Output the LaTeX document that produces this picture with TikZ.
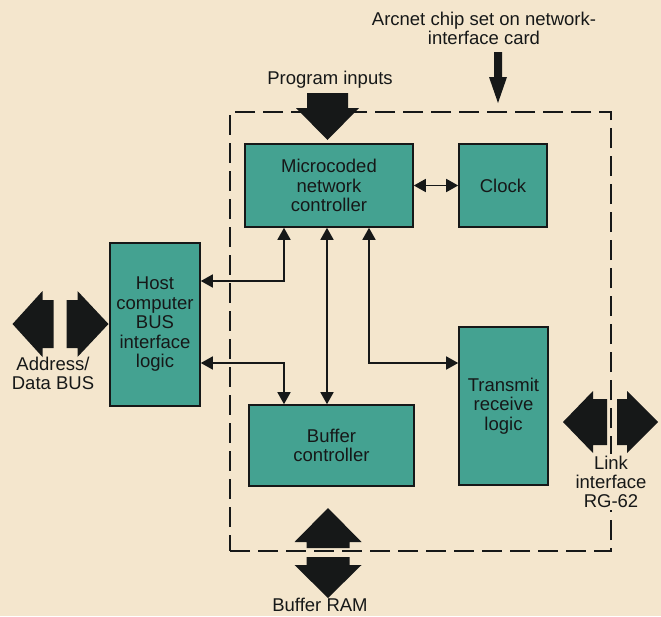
\documentclass[tikz,border=0pt]{standalone}
\usepackage{fontspec}
\setmainfont{Liberation Sans}
\usetikzlibrary{arrows.meta}
\definecolor{paper}{RGB}{244,230,205}
\definecolor{tealbox}{RGB}{68,162,145}
\definecolor{ink}{RGB}{22,24,24}
% one half of a fat block arrow: origin, direction, gap, shaft length,
% head length, head half-width, shaft half-width
\newcommand\fathalf[7]{%
  \fill[ink,shift={(#1)},rotate=#2]
    (#3,-#7) -- (#3+#4,-#7) -- (#3+#4,-#6) -- (#3+#4+#5,0)
    -- (#3+#4,#6) -- (#3+#4,#7) -- (#3,#7) -- cycle;}
\begin{document}
\begin{tikzpicture}[x=1pt,y=-1pt,
  block/.style={draw=ink, line width=1.6pt, fill=tealbox, align=center,
    text=ink, inner sep=0pt, font=\fontsize{18.5}{19.5}\selectfont},
  txt/.style={align=center, text=ink, inner sep=0pt,
    font=\fontsize{18.5}{19}\selectfont},
  conn/.style={draw=ink, line width=1.6pt,
    {Triangle[length=12pt,width=13pt]}-{Triangle[length=12pt,width=13pt]}},
  chipframe/.style={draw=ink, line width=1.6pt,
    dash pattern=on 20pt off 8pt, inner sep=0pt}]

\fill[paper] (0,0) rectangle (661,616);
\useasboundingbox (0,0) rectangle (661,616);

% network-interface card boundary
\node[chipframe, minimum width=381pt, minimum height=439pt] (chip) at (420.5,331.5) {};

% functional blocks
\node[block, minimum width=168pt, minimum height=83pt] (mnc) at (329,185.5) {Microcoded\\network\\controller};
\node[block, minimum width=88pt, minimum height=83pt] (clock) at (503,185.5) {Clock};
\node[block, minimum width=90pt, minimum height=163pt] (host) at (155,324.5) {Host\\computer\\BUS\\interface\\logic};
\node[block, minimum width=89pt, minimum height=158pt] (trx) at (503.5,406) {Transmit\\receive\\logic};
\node[block, minimum width=165pt, minimum height=81pt] (buf) at (331.5,445.5) {Buffer\\controller};

% bend points of the internal buses
\coordinate (j1) at (284,281);
\coordinate (j2) at (327,300);
\coordinate (j3) at (369,363);
\coordinate (j4) at (284,363);

\draw[conn] (mnc) -- (clock);
\draw[conn] (mnc.south -| j1) |- (host.east |- j1);
\draw[conn] (mnc.south -| j2) -- (buf.north -| j2);
\draw[conn] (mnc.south -| j3) |- (trx.west |- j3);
\draw[conn] (host.east |- j4) -| (buf.north -| j4);

% external connections
\coordinate (adbus) at (60,324);
\fathalf{adbus}{0}{6.5}{11}{31}{33}{24}
\fathalf{adbus}{180}{6.5}{11}{30}{33}{24}

\coordinate (rg) at (612,422);
\fathalf{rg}{0}{5}{10}{31}{31}{23}
\fathalf{rg}{180}{5}{14}{30}{31}{23}

\coordinate (ram) at (328,552.5);
\fathalf{ram}{90}{4.5}{6}{34}{33.5}{21.5}
\fathalf{ram}{-90}{4.5}{8}{33}{33.5}{21.5}

\coordinate (pin) at (327.5,93);
\fathalf{pin}{-90}{0}{15}{32}{31.5}{20.5}

\coordinate (arc) at (498,52);
\fathalf{arc}{-90}{0}{25}{26}{9}{4}

% captions
\node[txt] (progtxt) at (330,80) {Program inputs};
\node[txt] (arctxt) at (484,28) {Arcnet chip set on network-\\interface card};
\node[txt] (adtxt) at (53,373) {Address/\\Data BUS};
\node[txt, fill=paper, inner sep=2pt] (rgtxt) at (611,482) {Link\\interface\\RG-62};
\node[txt, anchor=base] (ramtxt) at (320,611) {Buffer RAM};
\end{tikzpicture}
\end{document}
